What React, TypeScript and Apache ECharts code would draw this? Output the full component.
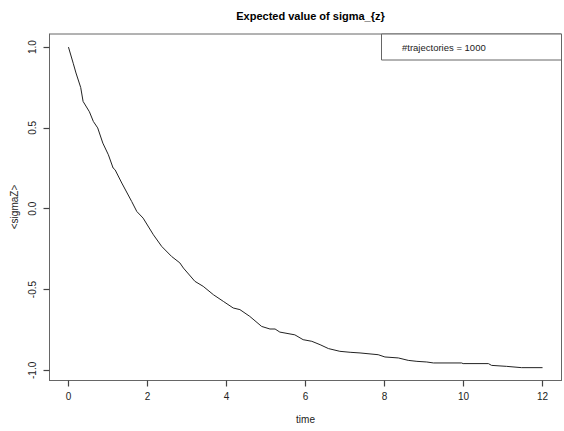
import React, { useEffect, useRef } from "react";
import * as echarts from "echarts";

const titleText = "Expected value of sigma_{z}";
const xName = "time";
const yName = "<sigmaZ>";
const legendText = "#trajectories = 1000";

const xTicks = [0, 2, 4, 6, 8, 10, 12];
const yTicks = [-1.0, -0.5, 0.0, 0.5, 1.0];

const times = [
  0, 0.12, 0.19, 0.31, 0.37, 0.53, 0.63, 0.74, 0.87, 1.01, 1.13, 1.18, 1.35, 1.6,
  1.73, 1.89, 2.15, 2.36, 2.61, 2.82, 2.91, 3.2, 3.41, 3.67, 3.92, 4.17, 4.34, 4.59,
  4.89, 5.1, 5.23, 5.35, 5.73, 5.94, 6.16, 6.37, 6.58, 6.87, 7.13, 7.38, 7.84, 8.01,
  8.35, 8.6, 8.82, 9.07, 9.24, 9.95, 9.99, 10.63, 10.71, 11.09, 11.47, 12.0,
];
const sigmaZ = [
  1.0, 0.9, 0.84, 0.75, 0.664, 0.6, 0.54, 0.5, 0.406, 0.334, 0.252, 0.241, 0.159, 0.045,
  -0.017, -0.058, -0.161, -0.233, -0.295, -0.335, -0.367, -0.449, -0.48, -0.532, -0.573, -0.614, -0.624, -0.666,
  -0.728, -0.744, -0.744, -0.763, -0.78, -0.81, -0.82, -0.841, -0.865, -0.882, -0.888, -0.892, -0.903, -0.917,
  -0.923, -0.938, -0.944, -0.948, -0.954, -0.954, -0.958, -0.958, -0.969, -0.975, -0.983, -0.983,
];

const FONT = "'Liberation Sans', Arial, Helvetica, sans-serif";
const TEXT = "#222";
const FRAME = "#666";
const TICK = "#444";

export default function App() {
  const ref = useRef<HTMLDivElement | null>(null);
  useEffect(() => {
    if (!ref.current) return;
    const chart = echarts.init(ref.current, undefined, { renderer: "svg" });
    const data = times.map((t, i) => [t, sigmaZ[i]]);
    chart.setOption({
      animation: false,
      title: {
        text: titleText,
        left: 305.5,
        top: 5,
        textAlign: "center",
        textStyle: { fontFamily: FONT, fontSize: 11, fontWeight: "bold", color: "#000" },
      },
      grid: {
        left: 49.5,
        right: 2.5,
        top: 34,
        bottom: 50.5,
        show: true,
        borderColor: FRAME,
        borderWidth: 1,
      },
      xAxis: {
        type: "value",
        min: -0.48,
        max: 12.48,
        axisLine: { show: true, onZero: false, lineStyle: { color: FRAME } },
        splitLine: { lineStyle: { color: "rgba(0,0,0,0)" } },
        axisTick: { show: true, length: 6, customValues: xTicks, lineStyle: { color: TICK, width: 1.2 } },
        axisLabel: {
          customValues: xTicks,
          margin: 11,
          fontFamily: FONT,
          fontSize: 10,
          color: TEXT,
          formatter: (v: number) => String(v),
        },
      },
      yAxis: {
        type: "value",
        min: -1.0625,
        max: 1.081,
        axisLine: { show: true, onZero: false, lineStyle: { color: FRAME } },
        splitLine: { lineStyle: { color: "rgba(0,0,0,0)" } },
        axisTick: { show: true, length: 6, customValues: yTicks, lineStyle: { color: TICK, width: 1.2 } },
        axisLabel: {
          customValues: yTicks,
          rotate: 90,
          margin: 12,
          fontFamily: FONT,
          fontSize: 10,
          color: TEXT,
          formatter: (v: number) => v.toFixed(1),
        },
      },
      series: [
        {
          type: "line",
          data,
          showSymbol: false,
          symbol: "none",
          lineStyle: { color: "#222", width: 1 },
          silent: true,
        },
      ],
      graphic: [
        {
          type: "rect",
          shape: { x: 381.5, y: 34, width: 180, height: 26 },
          style: { fill: "#fff", stroke: FRAME, lineWidth: 1 },
          z: 10,
        },
        {
          type: "text",
          x: 402,
          y: 47,
          style: {
            text: legendText,
            fontFamily: FONT,
            fontSize: 9.5,
            fill: TEXT,
            textVerticalAlign: "middle",
          },
          z: 11,
        },
        {
          type: "text",
          x: 305.5,
          y: 419,
          style: {
            text: xName,
            fontFamily: FONT,
            fontSize: 10,
            fill: TEXT,
            textAlign: "center",
            textVerticalAlign: "middle",
          },
        },
        {
          type: "text",
          x: 14,
          y: 207,
          rotation: Math.PI / 2,
          style: {
            text: yName,
            fontFamily: FONT,
            fontSize: 10,
            fill: TEXT,
            textAlign: "center",
            textVerticalAlign: "middle",
          },
        },
      ],
    });
    return () => chart.dispose();
  }, []);
  return (
    <div
      ref={ref}
      style={{ position: "fixed", left: 0, top: 0, width: 564, height: 431, background: "#fff" }}
    />
  );
}
